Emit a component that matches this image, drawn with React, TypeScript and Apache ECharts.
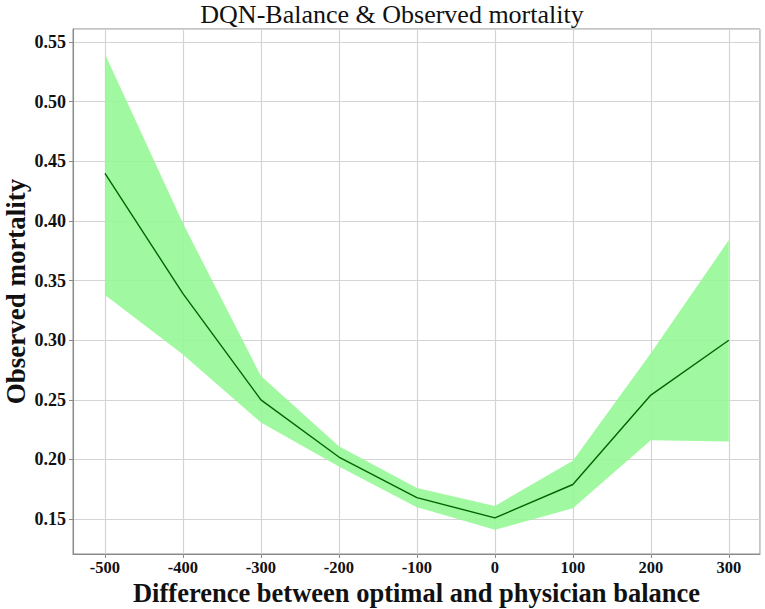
import React, { useEffect, useRef } from "react";
import * as echarts from "echarts";

const xValues = [-500, -400, -300, -200, -100, 0, 100, 200, 300];
const meanValues = [0.44, 0.339, 0.25, 0.202, 0.168, 0.151, 0.179, 0.254, 0.3];
const upperValues = [0.54, 0.398, 0.27, 0.211, 0.176, 0.161, 0.199, 0.289, 0.384];
const lowerValues = [0.338, 0.288, 0.231, 0.194, 0.16, 0.141, 0.159, 0.216, 0.215];

const titleText = "DQN-Balance & Observed mortality";
const xName = "Difference between optimal and physician balance";
const yName = "Observed mortality";

const FONT = "'Liberation Serif', 'DejaVu Serif', serif";

export default function App() {
  const ref = useRef<HTMLDivElement>(null);
  useEffect(() => {
    document.body.style.margin = "0";
    if (!ref.current) return;
    const chart = echarts.init(ref.current, null, { renderer: "svg" });
    const gray = "#8a8a8a";
    const option: any = {
      animation: false,
      backgroundColor: "#ffffff",
      graphic: [
        {
          type: "text",
          x: 392,
          y: 14,
          style: {
            text: titleText,
            fontFamily: FONT,
            fontSize: 26,
            fill: "#111",
            textAlign: "center",
            textVerticalAlign: "middle",
          },
        },
      ],
      grid: {
        left: 73,
        right: 5,
        top: 29,
        bottom: 55,
        show: true,
        borderColor: gray,
        borderWidth: 1,
        containLabel: false,
        outerBoundsMode: "none",
      },
      xAxis: {
        type: "value",
        min: -541,
        max: 340,
        splitNumber: 9,
        name: xName,
        nameLocation: "middle",
        nameGap: 29,
        nameMoveOverlap: false,
        nameTextStyle: {
          fontFamily: FONT,
          fontSize: 26.5,
          lineHeight: 20,
          fontWeight: "bold",
          color: "#111",
        },
        axisLine: { show: true, onZero: false, lineStyle: { color: gray, width: 1 } },
        axisTick: { show: true, length: 4, lineStyle: { color: gray } },
        axisLabel: {
          showMinLabel: false,
          showMaxLabel: false,
          margin: 5,
          fontFamily: FONT,
          fontSize: 16.5,
          lineHeight: 16,
          fontWeight: "bold",
          color: "#111",
        },
        splitLine: { show: true, lineStyle: { color: "#d4d4d4", width: 1.2 } },
      },
      yAxis: {
        type: "value",
        min: 0.1207,
        max: 0.561,
        splitNumber: 8,
        name: yName,
        nameLocation: "middle",
        nameRotate: 90,
        nameGap: 44,
        nameMoveOverlap: false,
        nameTextStyle: {
          fontFamily: FONT,
          fontSize: 27,
          fontWeight: "bold",
          color: "#111",
        },
        axisLine: { show: true, onZero: false, lineStyle: { color: gray, width: 1 } },
        axisTick: { show: true, length: 4, lineStyle: { color: gray } },
        axisLabel: {
          showMinLabel: false,
          showMaxLabel: false,
          margin: 7,
          fontFamily: FONT,
          fontSize: 18,
          fontWeight: "bold",
          color: "#111",
          formatter: (v: number) => v.toFixed(2),
        },
        splitLine: { show: true, lineStyle: { color: "#d4d4d4", width: 1.2 } },
      },
      series: [
        {
          type: "custom",
          data: [[xValues[0], meanValues[0]]],
          z: 2,
          silent: true,
          renderItem: (params: any, api: any) => {
            const pts: number[][] = [];
            for (let i = 0; i < xValues.length; i++) {
              pts.push(api.coord([xValues[i], upperValues[i]]));
            }
            for (let i = xValues.length - 1; i >= 0; i--) {
              pts.push(api.coord([xValues[i], lowerValues[i]]));
            }
            return {
              type: "polygon",
              shape: { points: pts },
              style: { fill: "rgba(150,248,150,0.9)", stroke: "none" },
            };
          },
        },
        {
          type: "line",
          data: xValues.map((x, i) => [x, meanValues[i]]),
          symbol: "none",
          z: 3,
          lineStyle: { color: "#006400", width: 1.4 },
        },
      ],
    };
    chart.setOption(option);
    return () => chart.dispose();
  }, []);
  return <div ref={ref} style={{ width: 765, height: 609 }} />;
}
